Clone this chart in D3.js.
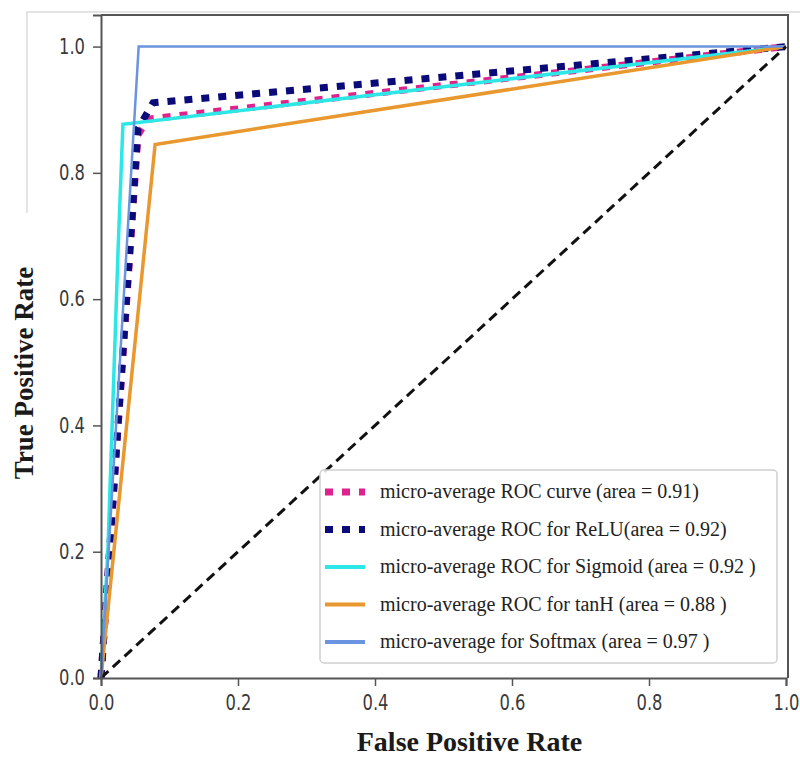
<!DOCTYPE html>
<html>
<head>
<meta charset="utf-8">
<script src="https://cdn.jsdelivr.net/npm/d3@7"></script>
<style>
  body { margin: 0; background: #fff; }
</style>
</head>
<body>
<script>
// ROC points (false positive rate / true positive rate)
const fprMicro = [0, 0.054, 0.068, 1];
const tprMicro = [0, 0.86, 0.885, 1];
const fprRelu = [0, 0.054, 0.076, 1];
const tprRelu = [0, 0.87, 0.911, 1];
const fprSigmoid = [0, 0.01, 0.025, 0.032, 1];
const tprSigmoid = [0, 0.2, 0.68, 0.877, 1];
const fprTanh = [0, 0.079, 1];
const tprTanh = [0, 0.845, 1];
const fprSoftmax = [0, 0.055, 1];
const tprSoftmax = [0, 1.0, 1];
const chanceLine = [0, 1];

const legendLabels = [
    "micro-average ROC curve (area = 0.91)",
    "micro-average ROC for ReLU(area = 0.92)",
    "micro-average ROC for Sigmoid (area = 0.92 )",
    "micro-average ROC for tanH (area = 0.88 )",
    "micro-average for Softmax (area = 0.97 )"
];
const xTicks = [0, 0.2, 0.4, 0.6, 0.8, 1.0];
const yTicks = [0, 0.2, 0.4, 0.6, 0.8, 1.0];

(function () {
    const W = 800, H = 757;
    const plot = { left: 101, right: 786, top: 15, bottom: 678 };

    const svg = d3.select("body").append("svg")
        .attr("width", W)
        .attr("height", H);

    // faint frame left over from the screenshot
    svg.append("path")
        .attr("d", "M27,213 L27,12 L800,12")
        .attr("fill", "none")
        .attr("stroke", "#dcdcdc")
        .attr("stroke-width", 1.5);

    // 1. SCALES
    const x = d3.scaleLinear().domain([0, 1.0]).range([plot.left, plot.right]);
    const y = d3.scaleLinear().domain([0, 1.05]).range([plot.bottom, plot.top]);

    // 2. CURVES (same order as the original plot calls)
    const series = [
        { fpr: fprMicro, tpr: tprMicro, color: "#e0228c", width: 7, dash: "8,9" },
        { fpr: fprRelu, tpr: tprRelu, color: "#0a0a78", width: 7, dash: "8,9" },
        { fpr: fprSigmoid, tpr: tprSigmoid, color: "#2de6e6", width: 3.5, dash: null },
        { fpr: fprTanh, tpr: tprTanh, color: "#e8982e", width: 3.5, dash: null },
        { fpr: fprSoftmax, tpr: tprSoftmax, color: "#6a93e0", width: 2.5, dash: null }
    ];

    const line = d3.line().x(d => x(d[0])).y(d => y(d[1]));

    const curves = svg.append("g");
    series.forEach(s => {
        curves.append("path")
            .attr("d", line(s.fpr.map((f, i) => [f, s.tpr[i]])))
            .attr("fill", "none")
            .attr("stroke", s.color)
            .attr("stroke-width", s.width)
            .attr("stroke-dasharray", s.dash);
    });

    // diagonal chance line
    curves.append("path")
        .attr("d", line(chanceLine.map(v => [v, v])))
        .attr("fill", "none")
        .attr("stroke", "#111")
        .attr("stroke-width", 3)
        .attr("stroke-dasharray", "10,6");

    // 3. AXES
    const xAxis = svg.append("g")
        .attr("transform", `translate(0,${plot.bottom})`)
        .call(d3.axisBottom(x).tickValues(xTicks).tickFormat(d3.format(".1f")).tickSize(8).tickPadding(9));

    const yAxis = svg.append("g")
        .attr("transform", `translate(${plot.left},0)`)
        .call(d3.axisLeft(y).tickValues(yTicks).tickFormat(d3.format(".1f")).tickSize(8).tickPadding(8));

    [xAxis, yAxis].forEach(a => {
        a.select(".domain").attr("stroke", "#555").attr("stroke-width", 2);
        a.selectAll(".tick line").attr("stroke", "#555").attr("stroke-width", 1.5);
        // narrow, tall digits as in the blurred screenshot
        a.selectAll(".tick text")
            .attr("fill", "#3a3a3a")
            .attr("textLength", 26)
            .attr("lengthAdjust", "spacingAndGlyphs")
            .style("font-family", "'DejaVu Sans', sans-serif")
            .style("font-size", "21px");
    });

    // top and right spines
    svg.append("path")
        .attr("d", `M${plot.left},${plot.top} L${plot.right + 2},${plot.top} L${plot.right + 2},${plot.bottom}`)
        .attr("fill", "none")
        .attr("stroke", "#555")
        .attr("stroke-width", 2);

    // 4. AXIS TITLES
    svg.append("text")
        .attr("x", (plot.left + plot.right) / 2 + 26)
        .attr("y", 751)
        .attr("text-anchor", "middle")
        .style("font-family", "'Liberation Serif', 'Times New Roman', serif")
        .style("font-weight", "bold")
        .style("font-size", "28px")
        .attr("fill", "#1a1a1a")
        .text("False Positive Rate");

    svg.append("text")
        .attr("transform", "translate(33,373) rotate(-90)")
        .attr("text-anchor", "middle")
        .style("font-family", "'Liberation Serif', 'Times New Roman', serif")
        .style("font-weight", "bold")
        .style("font-size", "27px")
        .attr("fill", "#1a1a1a")
        .text("True Positive Rate");

    // 5. LEGEND
    const legend = svg.append("g");
    legend.append("rect")
        .attr("x", 320).attr("y", 470)
        .attr("width", 457).attr("height", 193)
        .attr("rx", 4)
        .attr("fill", "#fff")
        .attr("fill-opacity", 0.85)
        .attr("stroke", "#d0d0d0")
        .attr("stroke-width", 1.5);

    const rowY = d3.scalePoint().domain(legendLabels).range([492, 642]);

    legendLabels.forEach((label, i) => {
        const s = series[i];
        const cy = rowY(label);
        legend.append("line")
            .attr("x1", 325).attr("x2", 365)
            .attr("y1", cy).attr("y2", cy)
            .attr("stroke", s.color)
            .attr("stroke-width", s.dash ? 7 : 4)
            .attr("stroke-dasharray", s.dash);
        legend.append("text")
            .attr("x", 380)
            .attr("y", cy + 6)
            .style("font-family", "'Liberation Serif', 'Times New Roman', serif")
            .style("font-size", "20px")
            .attr("fill", "#222")
            .text(label);
    });
})();
</script>
</body>
</html>
